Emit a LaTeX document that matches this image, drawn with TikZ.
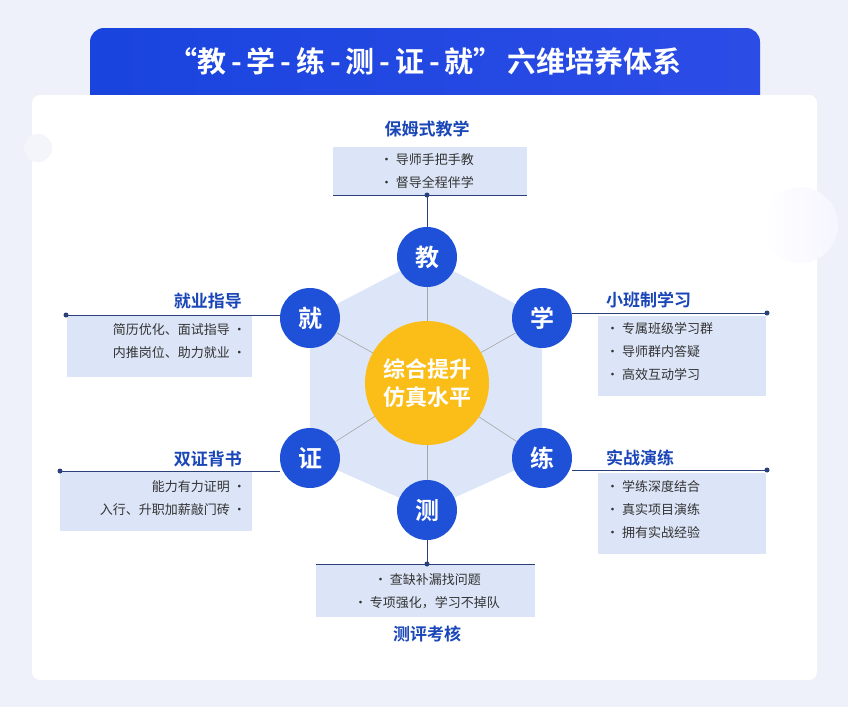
\documentclass[tikz,border=0pt]{standalone}
\usepackage{fontspec}
\setmainfont{Noto Sans CJK SC}
\newfontfamily\cjkb{Noto Sans CJK SC Bold}
\definecolor{bg}{HTML}{EEF0FA}
\definecolor{hexc}{HTML}{DCE6F8}
\definecolor{boxc}{HTML}{DCE5F7}
\definecolor{cblue}{HTML}{1E50D8}
\definecolor{tblue}{HTML}{1A46B8}
\definecolor{line}{HTML}{2B3F7A}
\definecolor{yel}{HTML}{FBBD18}
\definecolor{txt}{HTML}{333333}
\begin{document}
\begin{tikzpicture}[x=1pt,y=-1pt,
  vtx/.style={circle,fill=cblue,minimum size=60pt,inner sep=0pt,text=white,font=\cjkb\fontsize{24}{24}\selectfont},
  ttl/.style={text=tblue,font=\cjkb\fontsize{17}{17}\selectfont,inner sep=0pt},
  itm/.style={text=txt,font=\fontsize{13}{23}\selectfont,inner sep=0pt},
  conn/.style={draw=line,line width=0.9pt},
  spoke/.style={draw=gray!70,line width=0.6pt},
  bx/.style={fill=boxc,draw=none}]
\useasboundingbox (0,0) rectangle (848,707);
\fill[bg] (0,0) rectangle (848,707);
% banner
\shade[rounded corners=14pt,left color=cblue!85!blue,right color=cblue!70!blue!90] (90,28) rectangle (760,110);
\node[text=white,font=\cjkb\fontsize{29}{29}\selectfont] (title) at (425,61) {“教\,-\,学\,-\,练\,-\,测\,-\,证\,-\,就”\,六维培养体系};
% card
\fill[white,rounded corners=8pt] (32,95) rectangle (817,680);
\fill[bg!70!white] (38,148) circle (14);
\shade[left color=white,right color=bg!80!blue!15] (800,225) circle (38);
% hexagon
\coordinate (c) at (427,383);
\fill[hexc] (427,257)--(542,318)--(542,458)--(427,510)--(310,458)--(310,318)--cycle;
\node[vtx] (jiao) at (427,257) {教};
\node[vtx] (xue) at (542,318) {学};
\node[vtx] (lian) at (542,458) {练};
\node[vtx] (ce) at (427,510) {测};
\node[vtx] (zheng) at (310,458) {证};
\node[vtx] (jiu) at (310,318) {就};
\foreach \n in {jiao,xue,lian,ce,zheng,jiu} \draw[spoke] (c) -- (\n);
\node[circle,fill=yel,minimum size=124pt,inner sep=0pt,text=white,align=center,font=\cjkb\fontsize{22}{28}\selectfont] (ctr) at (c) {综合提升\\仿真水平};
% top
\fill[bx] (333,147) rectangle (527,195);
\draw[conn] (333,195) -- (527,195);
\coordinate (dt) at (427,195);
\fill[line] (dt) circle (2.5);
\draw[conn,line width=0.7pt] (dt) -- (jiao);
\node[ttl] (t1) at (427,129) {保姆式教学};
\node[itm,align=left] (i1) at (427,171) {·\ 导师手把手教\\·\ 督导全程伴学};
% right top
\fill[bx] (598,316) rectangle (766,396);
\coordinate (d2) at (767,313);
\draw[conn] (d2 -| xue.east) -- (d2); \fill[line] (d2) circle (2.5);
\node[ttl,anchor=west] (t2) at (606,300) {小班制学习};
\node[itm,align=left,anchor=north west] (i2) at (606,322) {·\ 专属班级学习群\\·\ 导师群内答疑\\·\ 高效互动学习};
% right bottom
\fill[bx] (598,473) rectangle (766,554);
\coordinate (d3) at (767,470);
\draw[conn] (d3 -| lian.east) -- (d3); \fill[line] (d3) circle (2.5);
\node[ttl,anchor=west] (t3) at (606,458) {实战演练};
\node[itm,align=left,anchor=north west] (i3) at (606,480) {·\ 学练深度结合\\·\ 真实项目演练\\·\ 拥有实战经验};
% left top
\fill[bx] (67,316) rectangle (252,377);
\coordinate (d4) at (66,315);
\draw[conn] (d4 -| jiu.west) -- (d4); \fill[line] (d4) circle (2.5);
\node[ttl,anchor=east] (t4) at (242,301) {就业指导};
\node[itm,align=right,anchor=north east] (i4) at (246,323) {简历优化、面试指导\ ·\\内推岗位、助力就业\ ·};
% left bottom
\fill[bx] (60,472) rectangle (252,531);
\coordinate (d5) at (60,471);
\draw[conn] (d5 -| zheng.west) -- (d5); \fill[line] (d5) circle (2.5);
\node[ttl,anchor=east] (t5) at (242,459) {双证背书};
\node[itm,align=right,anchor=north east] (i5) at (246,480) {能力有力证明\ ·\\入行、升职加薪敲门砖\ ·};
% bottom
\fill[bx] (316,564) rectangle (535,617);
\draw[conn] (316,564) -- (535,564);
\coordinate (db) at (427,564);
\fill[line] (db) circle (2.5);
\draw[conn,line width=0.7pt] (ce) -- (db);
\node[itm,align=left] (i6) at (427,591) {\hspace{20pt}·\ 查缺补漏找问题\\·\ 专项强化，学习不掉队};
\node[ttl] (t6) at (427,634) {测评考核};
\end{tikzpicture}
\end{document}
